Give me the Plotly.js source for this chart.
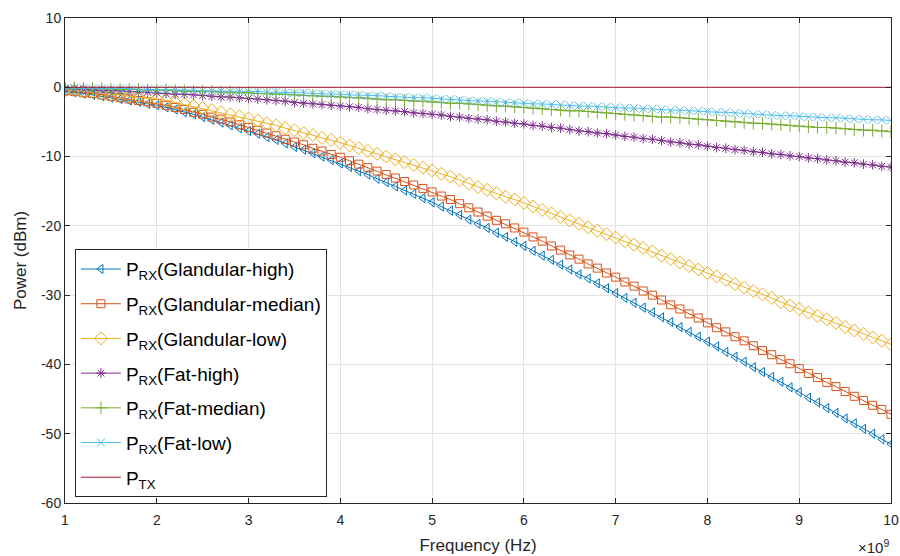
<!DOCTYPE html>
<html>
<head>
<meta charset="utf-8">
<script src="https://cdn.plot.ly/plotly-3.0.1.min.js"></script>
<style>html,body{margin:0;padding:0;background:#fff;}#chart{width:900px;height:556px;}</style>
</head>
<body>
<div id="chart"></div>
<script>
// Frequency in units of 1e9 Hz
const freqGHz = [1.0,1.1,1.2,1.3,1.4,1.5,1.6,1.7,1.8,1.9,
 2.0,2.1,2.2,2.3,2.4,2.5,2.6,2.7,2.8,2.9,
 3.0,3.1,3.2,3.3,3.4,3.5,3.6,3.7,3.8,3.9,
 4.0,4.1,4.2,4.3,4.4,4.5,4.6,4.7,4.8,4.9,
 5.0,5.1,5.2,5.3,5.4,5.5,5.6,5.7,5.8,5.9,
 6.0,6.1,6.2,6.3,6.4,6.5,6.6,6.7,6.8,6.9,
 7.0,7.1,7.2,7.3,7.4,7.5,7.6,7.7,7.8,7.9,
 8.0,8.1,8.2,8.3,8.4,8.5,8.6,8.7,8.8,8.9,
 9.0,9.1,9.2,9.3,9.4,9.5,9.6,9.7,9.8,9.9,10.0];

const glandularHigh = [-0.6,-0.7,-0.9,-1.1,-1.3,-1.5,-1.7,-1.9,-2.1,-2.4,
 -2.6,-2.9,-3.2,-3.6,-3.9,-4.3,-4.7,-5.1,-5.5,-5.9,
 -6.3,-6.7,-7.2,-7.6,-8.1,-8.6,-9.0,-9.5,-10.0,-10.5,
 -11.0,-11.5,-12.1,-12.6,-13.2,-13.7,-14.3,-14.9,-15.4,-16.0,
 -16.6,-17.2,-17.8,-18.4,-19.1,-19.7,-20.3,-21.0,-21.6,-22.3,
 -22.9,-23.6,-24.3,-24.9,-25.6,-26.3,-27.0,-27.6,-28.3,-29.0,
 -29.7,-30.4,-31.1,-31.8,-32.5,-33.2,-33.9,-34.6,-35.3,-36.0,
 -36.7,-37.4,-38.2,-38.9,-39.6,-40.4,-41.1,-41.8,-42.5,-43.3,
 -44.0,-44.8,-45.5,-46.3,-47.0,-47.8,-48.5,-49.3,-50.0,-50.8,-51.5];

const glandularMedian = [-0.5,-0.6,-0.8,-0.9,-1.1,-1.3,-1.5,-1.7,-1.9,-2.1,
 -2.3,-2.6,-2.9,-3.2,-3.6,-3.9,-4.3,-4.6,-5.0,-5.4,
 -5.8,-6.2,-6.6,-7.0,-7.5,-7.9,-8.3,-8.8,-9.2,-9.7,
 -10.1,-10.6,-11.1,-11.6,-12.1,-12.6,-13.1,-13.6,-14.1,-14.6,
 -15.1,-15.7,-16.2,-16.8,-17.4,-18.0,-18.6,-19.2,-19.7,-20.3,
 -20.9,-21.6,-22.2,-22.9,-23.5,-24.2,-24.8,-25.5,-26.1,-26.8,
 -27.4,-28.1,-28.7,-29.4,-30.0,-30.7,-31.4,-32.0,-32.7,-33.3,
 -34.0,-34.7,-35.3,-36.0,-36.6,-37.3,-38.0,-38.6,-39.3,-39.9,
 -40.6,-41.3,-41.9,-42.6,-43.2,-43.9,-44.6,-45.2,-45.9,-46.5,-47.2];

const glandularLow = [-0.4,-0.5,-0.6,-0.7,-0.8,-1.0,-1.1,-1.3,-1.4,-1.6,
 -1.7,-1.9,-2.2,-2.4,-2.7,-3.0,-3.3,-3.6,-3.9,-4.2,
 -4.5,-4.8,-5.2,-5.5,-5.9,-6.2,-6.6,-6.9,-7.3,-7.6,
 -8.0,-8.4,-8.8,-9.2,-9.6,-10.0,-10.4,-10.8,-11.2,-11.6,
 -12.0,-12.5,-12.9,-13.4,-13.9,-14.4,-14.8,-15.3,-15.8,-16.2,
 -16.7,-17.2,-17.7,-18.2,-18.7,-19.2,-19.7,-20.2,-20.7,-21.2,
 -21.7,-22.2,-22.7,-23.2,-23.7,-24.3,-24.8,-25.3,-25.8,-26.3,
 -26.8,-27.3,-27.8,-28.4,-28.9,-29.4,-29.9,-30.4,-31.0,-31.5,
 -32.0,-32.5,-33.0,-33.5,-34.0,-34.6,-35.1,-35.6,-36.1,-36.6,-37.1];

const fatHigh = [-0.2,-0.2,-0.3,-0.4,-0.4,-0.5,-0.5,-0.6,-0.7,-0.7,
 -0.8,-0.9,-1.0,-1.0,-1.1,-1.2,-1.3,-1.4,-1.4,-1.5,
 -1.6,-1.7,-1.8,-1.9,-2.0,-2.2,-2.3,-2.4,-2.5,-2.6,
 -2.7,-2.8,-2.9,-3.1,-3.2,-3.3,-3.4,-3.5,-3.7,-3.8,
 -3.9,-4.0,-4.2,-4.3,-4.5,-4.6,-4.7,-4.9,-5.0,-5.2,
 -5.3,-5.5,-5.6,-5.8,-5.9,-6.1,-6.3,-6.4,-6.6,-6.7,
 -6.9,-7.1,-7.2,-7.4,-7.5,-7.7,-7.9,-8.0,-8.2,-8.3,
 -8.5,-8.7,-8.8,-9.0,-9.1,-9.3,-9.4,-9.6,-9.7,-9.9,
 -10.0,-10.2,-10.3,-10.5,-10.6,-10.8,-10.9,-11.1,-11.2,-11.4,-11.5];

const fatMedian = [-0.1,-0.1,-0.2,-0.2,-0.2,-0.3,-0.3,-0.3,-0.3,-0.4,
 -0.4,-0.4,-0.5,-0.5,-0.6,-0.6,-0.6,-0.7,-0.7,-0.8,
 -0.8,-0.9,-0.9,-1.0,-1.0,-1.1,-1.2,-1.2,-1.3,-1.3,
 -1.4,-1.5,-1.5,-1.6,-1.7,-1.8,-1.8,-1.9,-2.0,-2.0,
 -2.1,-2.2,-2.3,-2.3,-2.4,-2.5,-2.6,-2.7,-2.7,-2.8,
 -2.9,-3.0,-3.1,-3.2,-3.3,-3.4,-3.4,-3.5,-3.6,-3.7,
 -3.8,-3.9,-4.0,-4.1,-4.2,-4.3,-4.3,-4.4,-4.5,-4.6,
 -4.7,-4.8,-4.9,-5.0,-5.1,-5.2,-5.2,-5.3,-5.4,-5.5,
 -5.6,-5.7,-5.8,-5.8,-5.9,-6.0,-6.1,-6.2,-6.2,-6.3,-6.4];

const fatLow = [-0.1,-0.1,-0.1,-0.2,-0.2,-0.2,-0.2,-0.2,-0.3,-0.3,
 -0.3,-0.3,-0.4,-0.4,-0.4,-0.5,-0.5,-0.5,-0.6,-0.6,
 -0.6,-0.6,-0.7,-0.7,-0.8,-0.8,-0.8,-0.9,-0.9,-1.0,
 -1.0,-1.1,-1.1,-1.2,-1.2,-1.3,-1.4,-1.4,-1.5,-1.5,
 -1.6,-1.7,-1.7,-1.8,-1.9,-2.0,-2.0,-2.1,-2.2,-2.2,
 -2.3,-2.4,-2.4,-2.5,-2.5,-2.6,-2.7,-2.7,-2.8,-2.8,
 -2.9,-3.0,-3.0,-3.1,-3.1,-3.2,-3.3,-3.3,-3.4,-3.4,
 -3.5,-3.6,-3.6,-3.7,-3.8,-3.9,-3.9,-4.0,-4.1,-4.1,
 -4.2,-4.3,-4.3,-4.4,-4.4,-4.5,-4.6,-4.6,-4.7,-4.7,-4.8];

const txFreqGHz = [1.0, 10.0];
const txPower = [0, 0];

const seriesNames = ['P<sub>RX</sub>(Glandular-high)','P<sub>RX</sub>(Glandular-median)','P<sub>RX</sub>(Glandular-low)',
 'P<sub>RX</sub>(Fat-high)','P<sub>RX</sub>(Fat-median)','P<sub>RX</sub>(Fat-low)','P<sub>TX</sub>'];
const xTicks = [1,2,3,4,5,6,7,8,9,10];
const yTicks = [-60,-50,-40,-30,-20,-10,0,10];

const colors = ['#0072BD','#D95319','#EDB120','#7E2F8E','#77AC30','#4DBEEE','#A2142F'];
const symbols = ['triangle-left-open','square-open','diamond-open','asterisk-open','cross-thin-open','x-thin-open'];
const sizes = [8,8,10,8,9,8];
const ySeries = [glandularHigh, glandularMedian, glandularLow, fatHigh, fatMedian, fatLow];

const traces = ySeries.map((ys, i) => ({
  x: freqGHz, y: ys, type: 'scatter', mode: 'lines+markers', name: seriesNames[i],
  legendgroup: 'g' + i,
  line: {color: colors[i], width: 1},
  marker: {symbol: symbols[i], size: sizes[i], color: colors[i], line: {color: colors[i], width: 1}}
}));
traces.push({x: txFreqGHz, y: txPower, type: 'scatter', mode: 'lines', name: seriesNames[6],
  legendgroup: 'g6', line: {color: colors[6], width: 1}});

const fontFam = '"Liberation Sans", Arial, Helvetica, sans-serif';
const layout = {
  width: 900, height: 556,
  margin: {l: 65, r: 9, t: 18, b: 53},
  paper_bgcolor: '#fff', plot_bgcolor: '#fff',
  font: {family: fontFam, color: '#262626', size: 14},
  showlegend: true,
  xaxis: {
    range: [1, 10], tickvals: xTicks, ticktext: xTicks.map(String),
    showgrid: true, gridcolor: '#e3e3e3', gridwidth: 1, zeroline: false,
    showline: true, linecolor: '#262626', linewidth: 1, mirror: 'ticks',
    ticks: 'inside', ticklen: 5, tickcolor: '#262626', ticklabelstandoff: 4,
    tickfont: {size: 14, color: '#262626'},
    title: {text: 'Frequency (Hz)', font: {size: 17, color: '#262626'}, standoff: 12}
  },
  yaxis: {
    range: [-60, 10], tickvals: yTicks, ticktext: yTicks.map(String),
    showgrid: true, gridcolor: '#e3e3e3', gridwidth: 1, zeroline: false,
    showline: true, linecolor: '#262626', linewidth: 1, mirror: 'ticks',
    ticks: 'inside', ticklen: 5, tickcolor: '#262626',
    tickfont: {size: 14, color: '#262626'},
    title: {text: 'Power (dBm)', font: {size: 17, color: '#262626'}, standoff: 10}
  },
  legend: {
    x: 0.012, y: 0.012, xanchor: 'left', yanchor: 'bottom',
    bgcolor: '#fff', bordercolor: '#262626', borderwidth: 1,
    font: {size: 19, color: '#000'}, itemwidth: 40, tracegroupgap: 7
  },
  annotations: [{
    xref: 'paper', yref: 'paper', x: 1.0, y: 0, yshift: -55, xanchor: 'right', yanchor: 'bottom',
    text: '×10<sup>9</sup>', showarrow: false, font: {size: 15, color: '#262626'}
  }]
};

Plotly.newPlot('chart', traces, layout, {staticPlot: true, displayModeBar: false});
</script>
</body>
</html>
